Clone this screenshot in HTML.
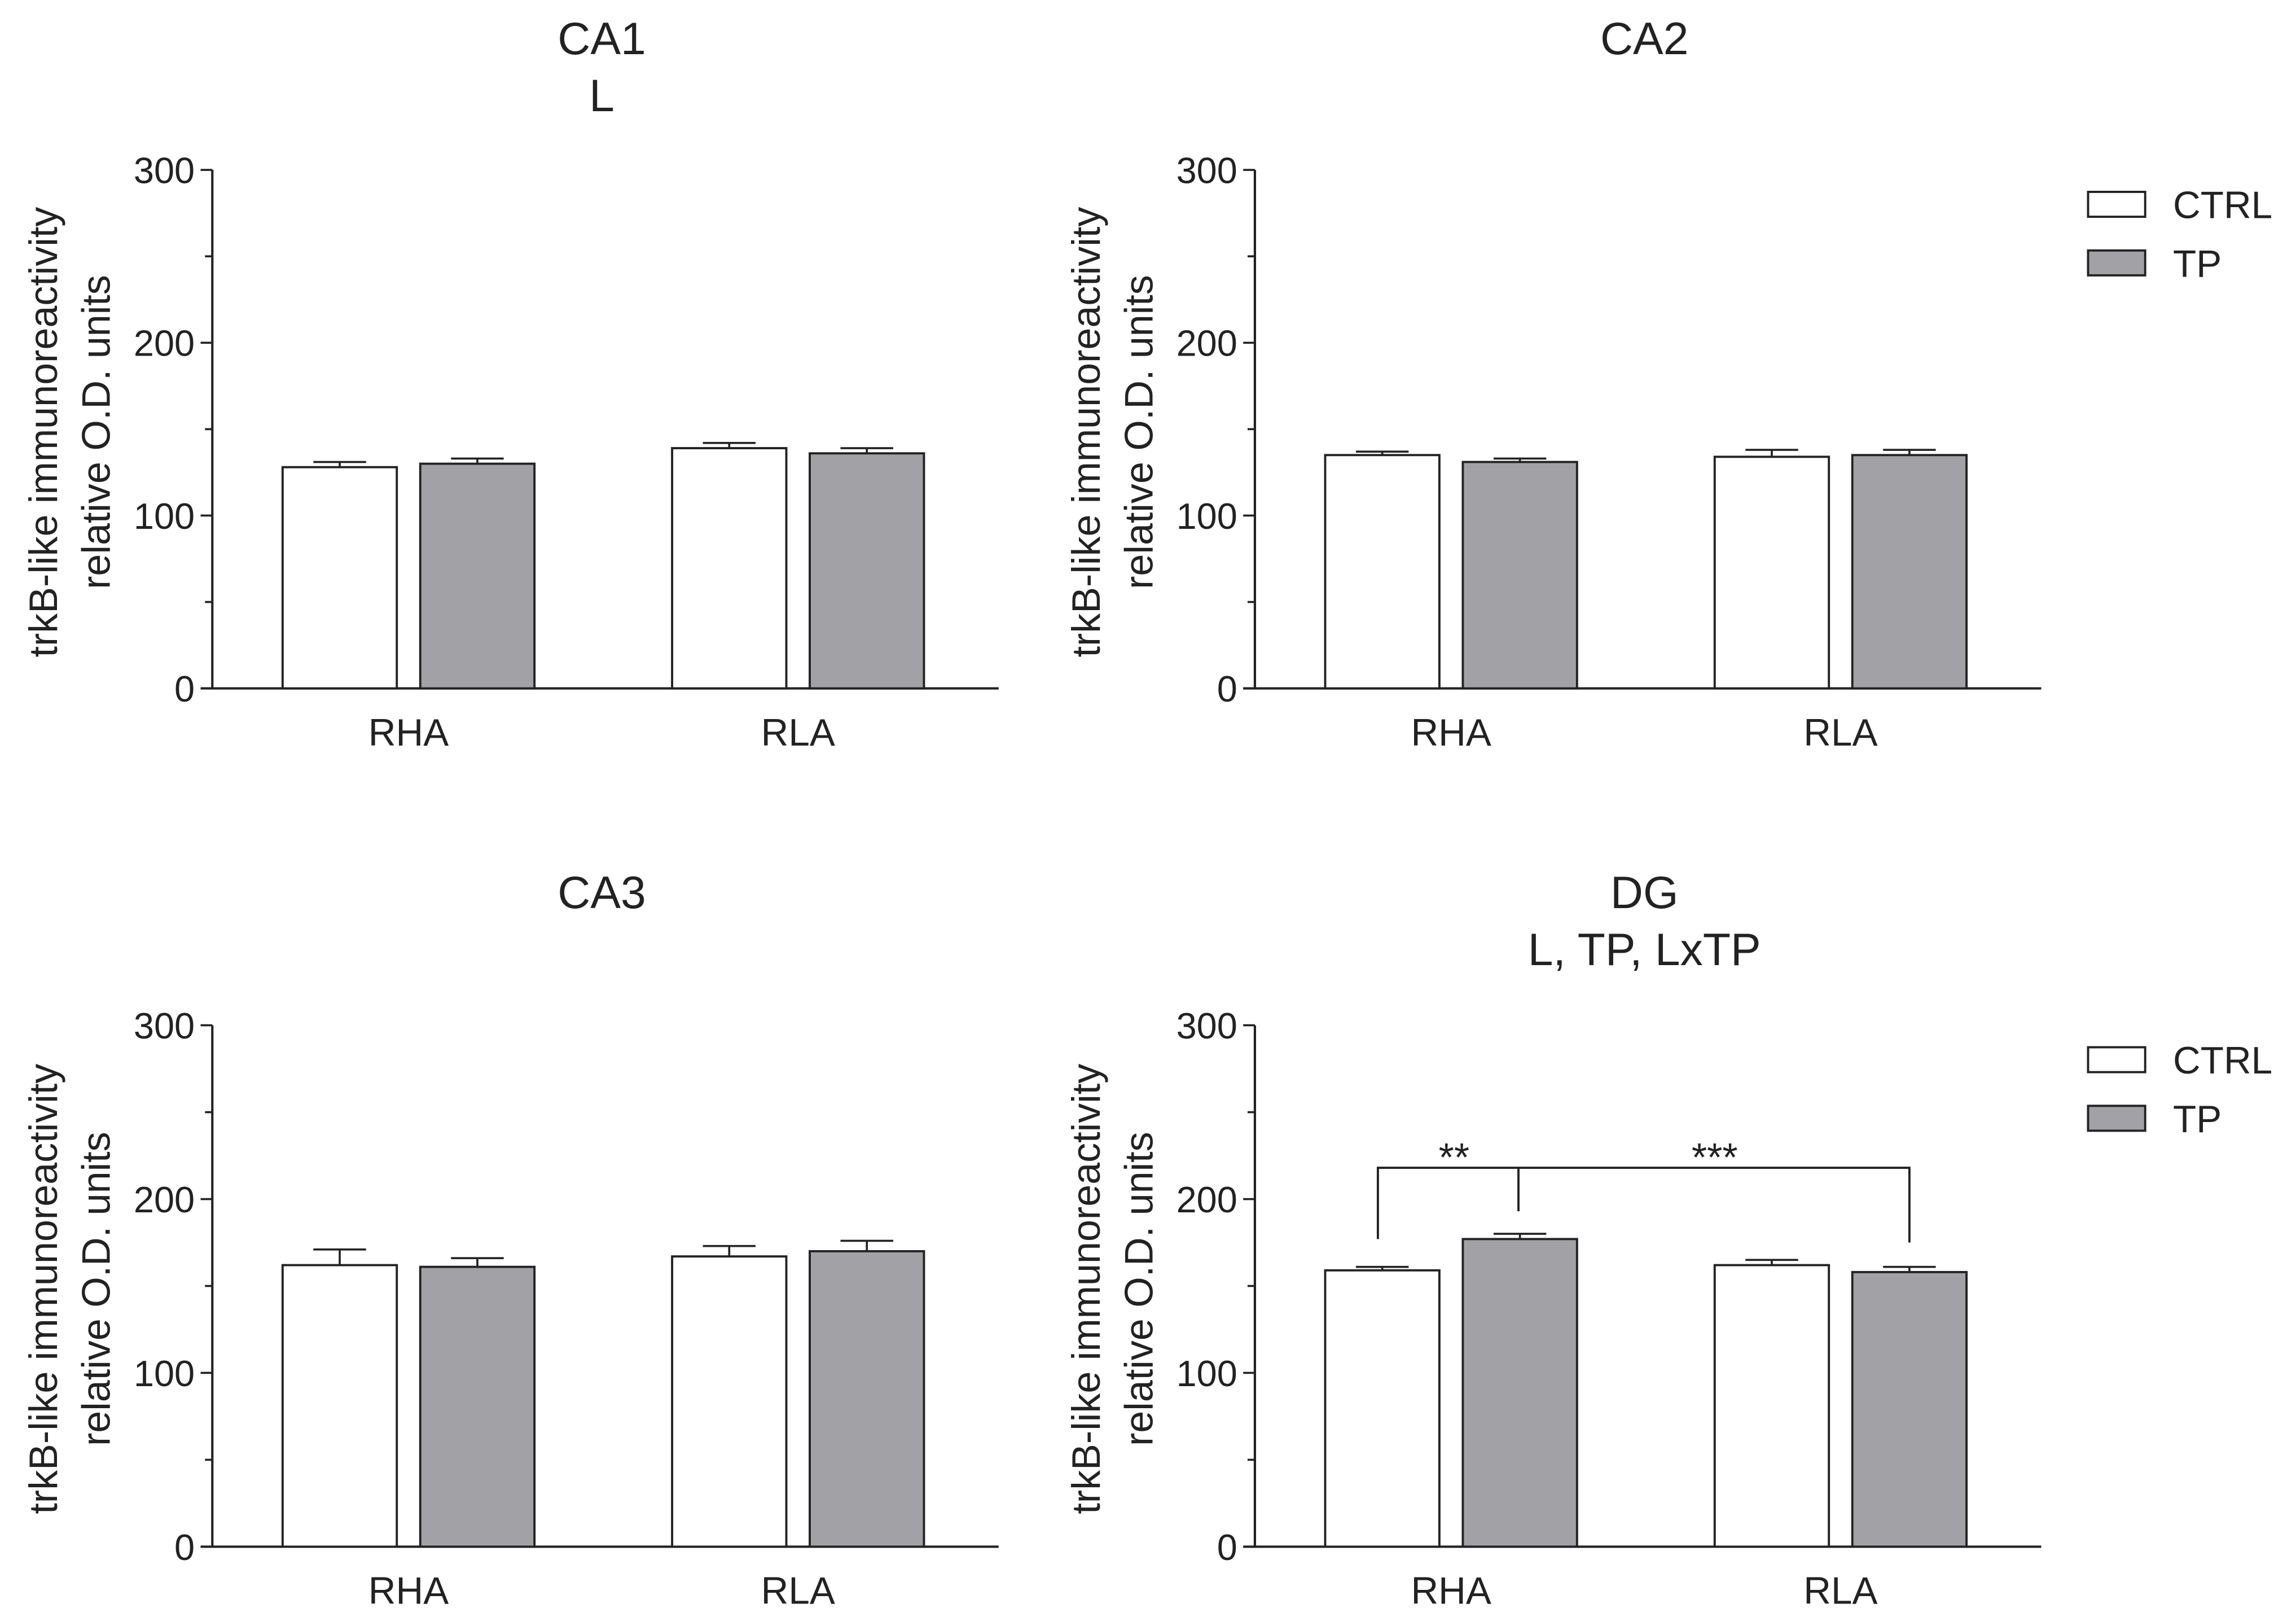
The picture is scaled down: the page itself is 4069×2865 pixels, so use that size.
<!DOCTYPE html>
<html><head><meta charset="utf-8">
<style>
html,body{margin:0;padding:0;background:#fff;}
svg{display:block;}
text{font-family:"Liberation Sans",sans-serif;fill:#222;}
</style></head>
<body>
<svg id="fig" width="4069" height="2865" viewBox="0 0 1568 1104" preserveAspectRatio="none" xmlns="http://www.w3.org/2000/svg"></svg>
<script>
const categories = ["RHA", "RLA"];
const seriesNames = ["CTRL", "TP"];
const yTicks = [0, 100, 200, 300];
const ca1Ctrl = [128, 139], ca1Tp = [130, 136], ca1CtrlErr = [3, 3], ca1TpErr = [3, 3];
const ca2Ctrl = [135, 134], ca2Tp = [131, 135], ca2CtrlErr = [2, 4], ca2TpErr = [2, 3];
const ca3Ctrl = [162, 167], ca3Tp = [161, 170], ca3CtrlErr = [9, 6], ca3TpErr = [5, 6];
const dgCtrl = [159, 162], dgTp = [177, 158], dgCtrlErr = [2, 3], dgTpErr = [3, 3];
const bracketLevels = [218, 177, 193, 175];
const titles = [["CA1","L"], ["CA2"], ["CA3"], ["DG","L, TP, LxTP"]];

const NS = "http://www.w3.org/2000/svg";
const svg = document.getElementById("fig");
function el(tag, attrs, parent, txt) {
  const e = document.createElementNS(NS, tag);
  for (const k in attrs) e.setAttribute(k, attrs[k]);
  if (txt !== undefined) e.textContent = txt;
  (parent || svg).appendChild(e);
  return e;
}
const panels = [
  {x0:145, y300:116, y0:470, name:"ca1", ctrl:ca1Ctrl, tp:ca1Tp, ce:ca1CtrlErr, te:ca1TpErr, t:titles[0], ty:25, legend:false},
  {x0:857, y300:116, y0:470, name:"ca2", ctrl:ca2Ctrl, tp:ca2Tp, ce:ca2CtrlErr, te:ca2TpErr, t:titles[1], ty:25, legend:true},
  {x0:145, y300:700, y0:1056, name:"ca3", ctrl:ca3Ctrl, tp:ca3Tp, ce:ca3CtrlErr, te:ca3TpErr, t:titles[2], ty:608, legend:false},
  {x0:857, y300:700, y0:1056, name:"dg", ctrl:dgCtrl, tp:dgTp, ce:dgCtrlErr, te:dgTpErr, t:titles[3], ty:608, legend:true}
];
panels.forEach(p => {
  const g = el("g", {});
  
  
  const y = v => p.y0 - (v / 300) * (p.y0 - p.y300);
  const xEnd = p.x0 + 537;
  p.t.forEach((line, i) => {
    const t = el("text", {x: p.x0 + 266, y: p.ty + 12 + i * 39, "font-size": 31, "text-anchor": "middle"}, g, line);
    
    
  });
  const ya = el("line", {x1:p.x0, y1:p.y300, x2:p.x0, y2:p.y0, stroke:"#222", "stroke-width":1.6}, g);
  
  
  const xa = el("line", {x1:p.x0 - 8, y1:p.y0, x2:xEnd, y2:p.y0, stroke:"#222", "stroke-width":1.6}, g);
  
  
  for (let v = 0; v <= 300; v += 50) {
    const major = v % 100 === 0;
    el("line", {x1:p.x0 - (major ? 8 : 5), y1:y(v), x2:p.x0, y2:y(v), stroke:"#222", "stroke-width":1.4}, g);
  }
  yTicks.forEach(v => {
    const t = el("text", {x:p.x0 - 12, y:y(v) + 9, "font-size":25, "text-anchor":"end", fill:"#333"}, g, String(v));
    
    
  });
  const cy = (p.y300 + p.y0) / 2 + 2;
  const yt1 = el("text", {x:0, y:0, "font-size":27, "text-anchor":"middle", fill:"#333", transform:`translate(${p.x0-106},${cy}) rotate(-90)`}, g, "trkB-like immunoreactivity");
  
  
  const yt2 = el("text", {x:0, y:0, "font-size":27, "text-anchor":"middle", fill:"#333", transform:`translate(${p.x0-70},${cy}) rotate(-90)`}, g, "relative O.D. units");
  
  
  categories.forEach((c, i) => {
    const gx = p.x0 + 48 + i * 266;
    [[p.ctrl, p.ce, "#ffffff", "ctrl"], [p.tp, p.te, "#a2a1a6", "tp"]].forEach((s, j) => {
      const bx = gx + j * 94, bw = 78, v = s[0][i], e = s[1][i];
      const cx = bx + bw / 2;
      el("line", {x1:cx, y1:y(v), x2:cx, y2:y(v + e), stroke:"#222", "stroke-width":1.4}, g);
      el("line", {x1:cx - 18, y1:y(v + e), x2:cx + 18, y2:y(v + e), stroke:"#222", "stroke-width":1.4}, g);
      const r = el("rect", {x:bx, y:y(v), width:bw, height:p.y0 - y(v), fill:s[2], stroke:"#222", "stroke-width":1.5}, g);
      
      
    });
    const xl = el("text", {x:gx + 86, y:p.y0 + 39, "font-size":26, "text-anchor":"middle"}, g, c);
    
    
  });
  if (p.legend) {
    const ly = p.y300 + 15;
    seriesNames.forEach((n, k) => {
      const r = el("rect", {x:1426, y:ly + k * 40, width:39, height:17, fill:k ? "#a2a1a6" : "#fff", stroke:"#222", "stroke-width":1.5}, g);
      
      
      const t = el("text", {x:1484, y:ly + k * 40 + 18, "font-size":26}, g, n);
      
      
    });
  }
  if (p.name === "dg") {
    const [top, l, m, r] = bracketLevels;
    const b = el("path", {d:`M941 ${y(l)} L941 ${y(top)} L1304 ${y(top)} L1304 ${y(r)} M1037 ${y(top)} L1037 ${y(m)}`, fill:"none", stroke:"#222", "stroke-width":1.5}, g);
    
    
    const s1 = el("text", {x:993, y:y(top) + 2, "font-size":27, "text-anchor":"middle"}, g, "**");
    
    
    const s2 = el("text", {x:1171, y:y(top) + 2, "font-size":27, "text-anchor":"middle"}, g, "***");
    
    
  }
});
</script>
</body></html>
